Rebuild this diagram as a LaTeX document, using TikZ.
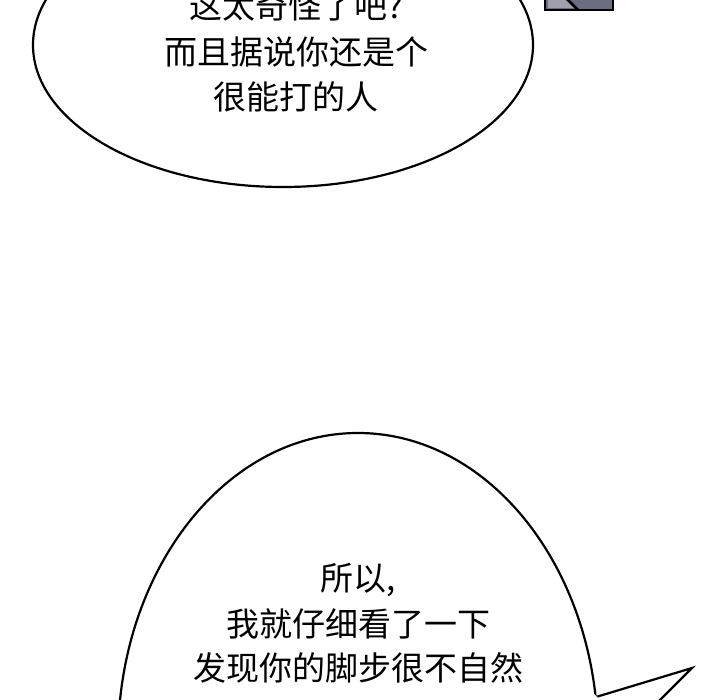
\documentclass[tikz,border=0pt]{standalone}
\usepackage{fontspec}
\newfontfamily\cjk{Noto Sans CJK SC}
\definecolor{slate}{rgb}{0.42, 0.43, 0.50}
\definecolor{slatelight}{rgb}{0.62, 0.63, 0.68}
\tikzset{bubble/.style={draw=black,line width=2.2pt,fill=white},
  talk/.style={font=\cjk\fontsize{33}{36}\selectfont,align=center}}
\begin{document}
\begin{tikzpicture}[x=1pt,y=-1pt]
\useasboundingbox (0,0) rectangle (720,700);
\clip (0,0) rectangle (720,700);
\filldraw[fill=slate,line width=2.5pt] (545,-5) rectangle (613,10);
\fill[slatelight] (548,-5) -- (565,-5) -- (575,8) -- (548,8) -- cycle;
\draw[line width=2.5pt] (563,-5) -- (578,10);

\draw[bubble] (283,45) ellipse [x radius=250,y radius=142];
\node[talk] (top1) at (296,6) {这太奇怪了吧?};
\node[talk] (top2) at (296,52) {而且据说你还是个};
\node[talk] (top3) at (296,97) {很能打的人};

\draw[bubble] (358,740) ellipse [x radius=240,y radius=307];
\filldraw[fill=white,line width=2.2pt] (596,697) -- (692,668) -- (655,705);
\fill[white] (590,690) -- (598,698) -- (652,705) -- (590,705) -- cycle;
\node[talk] (low1) at (358,580) {所以,};
\node[talk] (low2) at (358,624) {我就仔细看了一下};
\node[talk] (low3) at (358,668) {发现你的脚步很不自然};
\end{tikzpicture}
\end{document}
